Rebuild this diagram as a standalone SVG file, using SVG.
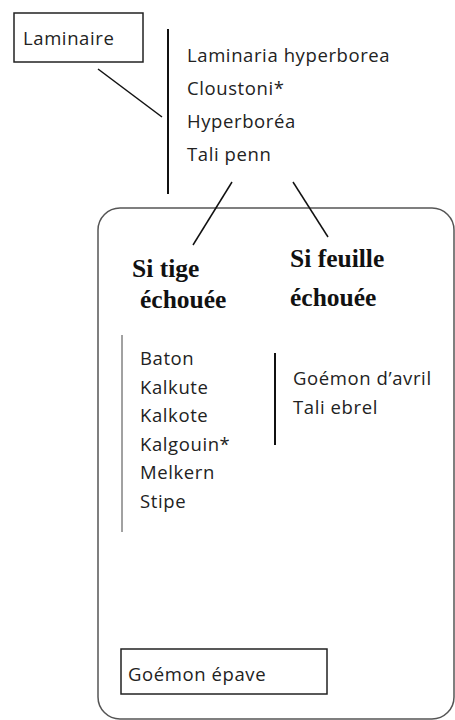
<svg xmlns="http://www.w3.org/2000/svg" width="455" height="720" viewBox="0 0 455 720">
<style>
.t{font-family:"Open Sans","Noto Sans",sans-serif;font-size:18.5px;letter-spacing:0.6px;fill:#222}
.h{font-family:"Liberation Serif","DejaVu Serif",serif;font-weight:bold;font-size:25.5px;fill:#111}
.box{fill:none;stroke:#222;stroke-width:1.5}
.ln{stroke:#111;fill:none}
</style>
<rect width="455" height="720" fill="#fff"/>
<g id="container">
<rect x="98" y="208" width="356" height="511" rx="22" ry="22" fill="none" stroke="#555" stroke-width="1.5"/>
</g>
<g id="laminaire">
<rect class="box" x="14" y="13" width="129" height="49"/>
<text class="t" x="23" y="45">Laminaire</text>
</g>
<g id="names">
<text class="t" x="187" y="62">Laminaria hyperborea</text>
<text class="t" x="187" y="95">Cloustoni*</text>
<text class="t" x="187" y="128">Hyperboréa</text>
<text class="t" x="187" y="161">Tali penn</text>
</g>
<g id="si-tige">
<text class="h" x="132" y="277">Si tige</text>
<text class="h" x="140" y="308">échouée</text>
</g>
<g id="si-feuille">
<text class="h" x="290" y="267">Si feuille</text>
<text class="h" x="290" y="306">échouée</text>
</g>
<g id="tige-list">
<text class="t" x="140" y="365">Baton</text>
<text class="t" x="140" y="393.5">Kalkute</text>
<text class="t" x="140" y="422">Kalkote</text>
<text class="t" x="140" y="450.5">Kalgouin*</text>
<text class="t" x="140" y="479">Melkern</text>
<text class="t" x="140" y="507.5">Stipe</text>
</g>
<g id="feuille-list">
<text class="t" x="293" y="385">Goémon d’avril</text>
<text class="t" x="293" y="414">Tali ebrel</text>
</g>
<g id="goemon-epave">
<rect class="box" x="121" y="649" width="206" height="45"/>
<text class="t" x="128" y="681">Goémon épave</text>
</g>
<g id="connectors">
<line class="ln" x1="98" y1="69" x2="162" y2="117" stroke-width="1.5"/>
<line class="ln" x1="168" y1="29" x2="168" y2="194" stroke-width="2"/>
<line class="ln" x1="232" y1="182" x2="193" y2="245" stroke-width="1.5"/>
<line class="ln" x1="293" y1="182" x2="328" y2="237" stroke-width="1.5"/>
<line x1="122" y1="335" x2="122" y2="532" stroke="#444" stroke-width="1"/>
<line class="ln" x1="275" y1="353" x2="275" y2="445" stroke-width="2"/>
</g>
</svg>
